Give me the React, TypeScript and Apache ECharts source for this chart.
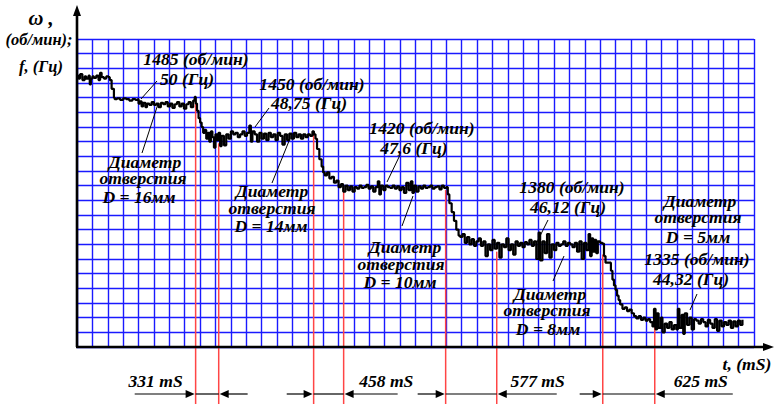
import React, { useEffect, useRef } from 'react';
import * as echarts from 'echarts';

// Curve values in grid cells (x: 0..44 columns, y: 0..21 rows)
const segStart: number[][] = [
  [0, 18.5], [0.1, 18.3], [0.2, 18.6], [0.35, 18.2], [0.5, 18.45], [0.6, 18.3], [0.75, 18.5], [0.83, 17.9], [0.9, 18.3],
  [1.0, 18.45], [1.1, 18.35], [1.25, 18.5], [1.4, 18.2], [1.5, 18.7], [1.6, 18.4], [1.75, 18.3], [1.9, 18.45], [2.05, 18.4],
  [2.13, 18.2], [2.25, 17.6], [2.4, 17.0],
];
const seg16: number[][] = [
  [2.45, 16.9], [2.6, 16.95], [2.8, 16.85], [3.0, 16.95], [3.2, 16.9], [3.4, 16.8], [3.6, 16.9], [3.8, 16.85], [3.95, 16.9],
  [4.0, 16.6], [4.1, 16.75], [4.2, 16.4], [4.3, 16.65], [4.45, 16.35], [4.55, 16.6], [4.7, 16.5], [4.85, 16.7], [5.0, 16.5],
  [5.15, 16.6], [5.3, 16.35], [5.45, 16.65], [5.6, 16.55], [5.75, 16.7], [5.9, 16.4], [6.05, 16.6], [6.2, 16.3], [6.35, 16.55],
  [6.5, 16.7], [6.65, 16.4], [6.8, 16.6], [6.95, 16.25], [7.1, 16.55], [7.25, 16.7], [7.4, 16.35], [7.55, 16.8], [7.65, 17.05],
  [7.72, 16.6], [7.8, 16.1], [7.9, 15.6], [8.0, 15.3], [8.1, 15.0], [8.2, 14.6],
];
const seg14: number[][] = [
  [8.3, 14.8], [8.4, 14.2], [8.5, 14.6], [8.6, 14.0], [8.7, 14.7], [8.8, 14.3], [8.9, 13.6], [9.0, 14.5], [9.1, 14.1],
  [9.2, 14.6], [9.3, 13.7], [9.4, 14.4], [9.55, 13.75], [9.7, 14.5], [9.85, 14.2], [10.0, 14.7], [10.15, 14.5], [10.3, 14.6],
  [10.45, 14.3], [10.6, 14.5], [10.75, 14.7], [10.9, 14.4], [11.05, 14.6], [11.2, 15.1], [11.3, 14.0], [11.4, 14.7],
  [11.55, 14.5], [11.7, 14.0], [11.85, 14.6], [12.0, 14.2], [12.15, 14.55], [12.3, 14.1], [12.45, 14.6], [12.6, 14.3],
  [12.75, 14.5], [12.9, 14.1], [13.05, 14.6], [13.2, 14.4], [13.35, 13.8], [13.5, 14.5], [13.65, 14.1], [13.8, 14.55],
  [13.95, 14.2], [14.1, 14.6], [14.25, 14.3], [14.4, 14.5], [14.55, 14.2], [14.7, 14.5], [14.85, 14.3], [15.0, 14.5],
  [15.15, 14.4], [15.3, 14.7], [15.4, 14.5], [15.5, 14.2], [15.6, 13.5], [15.75, 12.8], [15.9, 12.3], [16.0, 11.9],
];
const seg10: number[][] = [
  [16.1, 11.7], [16.25, 11.9], [16.4, 11.5], [16.55, 11.6], [16.7, 11.2], [16.85, 11.35], [17.0, 10.9], [17.15, 11.1],
  [17.3, 10.6], [17.45, 11.0], [17.6, 10.7], [17.75, 10.95], [17.9, 10.6], [18.05, 10.9], [18.2, 10.8], [18.35, 11.0],
  [18.5, 10.85], [18.65, 10.9], [18.8, 11.05], [18.95, 10.8], [19.1, 10.95], [19.25, 10.6], [19.4, 10.9], [19.55, 11.3],
  [19.65, 10.4], [19.75, 11.0], [19.9, 10.7], [20.05, 11.0], [20.2, 10.9], [20.35, 10.85], [20.5, 11.0], [20.65, 10.8],
  [20.8, 10.95], [20.95, 10.7], [21.1, 10.9], [21.25, 10.5], [21.4, 11.2], [21.55, 10.7], [21.7, 11.3], [21.8, 10.5],
  [21.9, 11.0], [22.05, 10.6], [22.2, 10.95], [22.35, 10.8], [22.5, 11.0], [22.65, 10.85], [22.8, 10.9], [22.95, 11.0],
  [23.1, 10.8], [23.25, 10.9], [23.4, 10.95], [23.55, 10.75], [23.7, 11.0], [23.85, 10.85], [24.0, 10.9],
  [24.1, 10.4], [24.2, 9.8], [24.35, 9.2], [24.5, 8.6], [24.65, 8.0], [24.8, 7.6], [24.9, 7.5],
];
const seg8: number[][] = [
  [25.05, 7.7], [25.2, 7.1], [25.35, 7.5], [25.5, 7.0], [25.65, 7.35], [25.8, 6.9], [25.95, 7.2], [26.1, 7.4],
  [26.25, 6.9], [26.4, 7.2], [26.55, 6.2], [26.7, 7.0], [26.85, 6.6], [27.0, 7.3], [27.15, 6.7], [27.3, 7.1], [27.45, 6.1],
  [27.6, 7.0], [27.75, 6.8], [27.9, 7.4], [28.05, 6.6], [28.2, 7.0], [28.35, 6.3], [28.5, 7.2], [28.65, 6.9], [28.8, 7.1],
  [28.95, 6.8], [29.1, 7.15], [29.25, 7.0], [29.4, 7.3], [29.55, 6.9], [29.7, 7.2], [29.85, 6.0], [30.0, 7.8], [30.1, 5.9],
  [30.25, 7.2], [30.4, 6.4], [30.55, 7.7], [30.7, 6.1], [30.85, 7.0], [31.0, 6.6], [31.15, 7.1], [31.3, 6.9], [31.45, 7.0],
  [31.6, 7.2], [31.75, 6.9], [31.9, 7.1], [32.05, 7.0], [32.2, 6.8], [32.35, 7.1], [32.5, 6.5], [32.65, 7.2], [32.8, 6.0],
  [32.95, 7.1], [33.1, 6.6], [33.25, 7.7], [33.35, 6.2], [33.45, 7.4], [33.55, 6.5], [33.65, 7.3], [33.75, 6.4],
  [33.85, 7.2], [34.0, 7.1], [34.15, 7.05],
  [34.25, 6.2], [34.35, 5.75], [34.55, 5.75], [34.7, 5.2], [34.8, 4.6], [34.9, 4.2], [35.0, 3.9], [35.1, 3.5], [35.2, 3.2],
  [35.3, 2.9],
];
const seg5: number[][] = [
  [35.45, 2.6], [35.6, 2.7], [35.75, 2.45], [35.9, 2.55], [36.05, 2.3], [36.2, 2.1], [36.35, 1.95], [36.5, 2.1], [36.65, 1.85],
  [36.8, 2.0], [36.95, 1.8], [37.1, 1.9], [37.25, 1.7], [37.4, 1.4], [37.5, 2.6], [37.6, 1.2], [37.7, 2.3], [37.8, 1.3],
  [37.95, 2.0], [38.05, 1.0], [38.2, 1.6], [38.35, 1.3], [38.5, 1.7], [38.65, 1.2], [38.8, 1.5], [38.95, 1.2], [39.05, 2.6],
  [39.15, 1.3], [39.3, 2.2], [39.4, 0.9], [39.5, 2.3], [39.65, 1.5], [39.8, 2.0], [39.95, 1.2], [40.1, 1.9], [40.25, 1.8],
  [40.4, 1.6], [40.55, 1.9], [40.7, 1.7], [40.85, 1.4], [41.0, 1.85], [41.15, 1.6], [41.3, 1.3], [41.45, 1.9], [41.6, 1.1],
  [41.75, 1.8], [41.9, 1.4], [42.05, 1.7], [42.2, 1.5], [42.35, 1.8], [42.5, 1.3], [42.65, 1.75], [42.8, 1.4], [42.95, 1.8],
  [43.1, 1.5], [43.25, 1.85],
];

// Event markers (red lines): time position and curve level where each starts
const eventTimes = [7.71, 9.21, 15.38, 17.33, 23.96, 27.28, 34.17, 37.55];
const eventTops = [16.85, 13.9, 14.6, 10.7, 10.7, 6.5, 6.3, 1.5];
const intervalLabels = ['331 mS', '458 mS', '577 mS', '625 mS'];

// Layout of the interval arrows (tail ends and label centre, in x cells)
const arrowLayout = [
  { tailL: 3.75, tailR: 11.09, label: 5.11 },
  { tailL: 13.63, tailR: 20.84, label: 20.1 },
  { tailL: 22.14, tailR: 31.18, label: 29.94 },
  { tailL: 32.67, tailR: 42.62, label: 40.54 },
];

const FAMILY = '"Liberation Serif", "Times New Roman", serif';
const FONT = `italic bold 16px ${FAMILY}`;
const STRETCH = 1.1;

const annotationTexts: [string, number, number][] = [
  ['ω ,', 41, 18],
  ['(об/мин);', 39, 40],
  ['f, (Гц)', 41, 67],
  ['1485 (об/мин)', 196, 60],
  ['50 (Гц)', 187, 80],
  ['Диаметр', 145, 163],
  ['отверстия', 143, 179],
  ['D = 16мм', 139, 198],
  ['1450 (об/мин)', 312, 85],
  ['48,75 (Гц)', 309, 104],
  ['Диаметр', 272, 192],
  ['отверстия', 272, 209],
  ['D = 14мм', 271, 227],
  ['1420 (об/мин)', 422, 129],
  ['47,6 (Гц)', 414, 149],
  ['Диаметр', 405, 248],
  ['отверстия', 401, 265],
  ['D = 10мм', 400, 283],
  ['1380 (об/мин)', 572, 188],
  ['46,12 (Гц)', 568, 208],
  ['Диаметр', 550, 295],
  ['отверстия', 547, 311],
  ['D = 8мм', 548, 330],
  ['Диаметр', 700, 202],
  ['отверстия', 698, 218],
  ['D = 5мм', 698, 238],
  ['1335 (об/мин)', 697, 260],
  ['44,32 (Гц)', 691, 280],
  ['t, (mS)', 747, 365],
];

const leaders: number[][] = [
  [157, 81, 141, 99],
  [158, 104, 142, 153],
  [269, 108, 255, 127],
  [289, 141, 272, 183],
  [400, 155, 387, 182],
  [413, 196, 402, 226],
  [548, 220, 537, 242],
  [564, 256, 553, 281],
  [697, 294, 690, 310],
];

export default function App() {
  const ref = useRef<HTMLDivElement>(null);
  useEffect(() => {
    if (!ref.current) return;
    const chart = echarts.init(ref.current, undefined, { renderer: 'svg' });
    const curve = [...segStart, ...seg16, ...seg14, ...seg10, ...seg8, ...seg5];
    const blue = '#1a1aff';
    const graphics: any[] = [];
    // axes
    graphics.push({ type: 'line', shape: { x1: 77, y1: 347, x2: 77, y2: 14 }, style: { stroke: '#000', lineWidth: 2.6 }, z: 50 });
    graphics.push({ type: 'polygon', shape: { points: [[77, 5], [73, 16], [81, 16]] }, style: { fill: '#000' }, z: 50 });
    graphics.push({ type: 'line', shape: { x1: 76, y1: 347, x2: 764, y2: 347 }, style: { stroke: '#000', lineWidth: 2.6 }, z: 50 });
    graphics.push({ type: 'polygon', shape: { points: [[774, 347], [763, 343], [763, 351]] }, style: { fill: '#000' }, z: 50 });
    annotationTexts.forEach(([t, x, y], i) => {
      graphics.push({
        type: 'text', z: 60, x, y, scaleX: i < 3 ? 1.03 : STRETCH,
        style: {
          text: t, x: 0, y: 0, font: i === 0 ? `italic bold 20px ${FAMILY}` : FONT, fill: '#000',
          align: 'center', verticalAlign: 'middle', textAlign: 'center', textVerticalAlign: 'middle',
        },
      });
    });
    leaders.forEach(([x1, y1, x2, y2]) => {
      graphics.push({ type: 'line', z: 55, shape: { x1, y1, x2, y2 }, style: { stroke: '#000', lineWidth: 1 } });
    });

    chart.setOption({
      animation: false,
      backgroundColor: '#fff',
      grid: { left: 77, top: 39, width: 677, height: 308 },
      xAxis: {
        type: 'value', min: 0, max: 44, interval: 1,
        axisLine: { show: false }, axisTick: { show: false }, axisLabel: { show: false },
        splitLine: { show: true, lineStyle: { color: blue, width: 1.4 } },
      },
      yAxis: {
        type: 'value', min: 0, max: 21, interval: 1,
        axisLine: { show: false }, axisTick: { show: false }, axisLabel: { show: false },
        splitLine: { show: true, lineStyle: { color: blue, width: 1.4 } },
      },
      series: [
        {
          type: 'custom', clip: false, z: 3,
          data: eventTimes.map((t, i) => [t, eventTops[i]]),
          renderItem: (params: any, api: any) => {
            const p = api.coord([api.value(0), api.value(1)]);
            return {
              type: 'line',
              shape: { x1: p[0], y1: p[1], x2: p[0], y2: api.getHeight() },
              style: { stroke: '#ff4545', lineWidth: 1.5 },
            };
          },
        },
        {
          type: 'custom', clip: false, z: 4,
          data: intervalLabels.map((_, i) => [eventTimes[2 * i], eventTimes[2 * i + 1]]),
          renderItem: (params: any, api: any) => {
            const i = params.dataIndex;
            const lay = arrowLayout[i];
            const X = (v: number) => api.coord([v, 0])[0];
            const a = X(api.value(0));
            const b = X(api.value(1));
            const L = X(lay.tailL);
            const R = X(lay.tailR);
            const y = api.getHeight() - 10;
            const st = { stroke: '#000', lineWidth: 1.2 };
            return {
              type: 'group',
              children: [
                { type: 'line', shape: { x1: L, y1: y, x2: a - 8, y2: y }, style: st },
                { type: 'polygon', shape: { points: [[a - 1, y], [a - 10, y - 4], [a - 10, y + 4]] }, style: { fill: '#000' } },
                { type: 'line', shape: { x1: a, y1: y, x2: b, y2: y }, style: st },
                { type: 'polygon', shape: { points: [[b + 1, y], [b + 10, y - 4], [b + 10, y + 4]] }, style: { fill: '#000' } },
                { type: 'line', shape: { x1: b + 8, y1: y, x2: R, y2: y }, style: st },
                {
                  type: 'text', x: X(lay.label), y: y - 12, scaleX: STRETCH,
                  style: { text: intervalLabels[i], x: 0, y: 0, font: FONT, fill: '#000', align: 'center', verticalAlign: 'middle' },
                },
              ],
            };
          },
        },
        {
          type: 'line', z: 5, data: curve, showSymbol: false, step: 'end',
          lineStyle: { color: '#000', width: 2.2 },
        },
      ],
      graphic: graphics,
    });
    return () => chart.dispose();
  }, []);
  return <div ref={ref} style={{ position: 'fixed', left: 0, top: 0, width: 777, height: 404 }} />;
}
